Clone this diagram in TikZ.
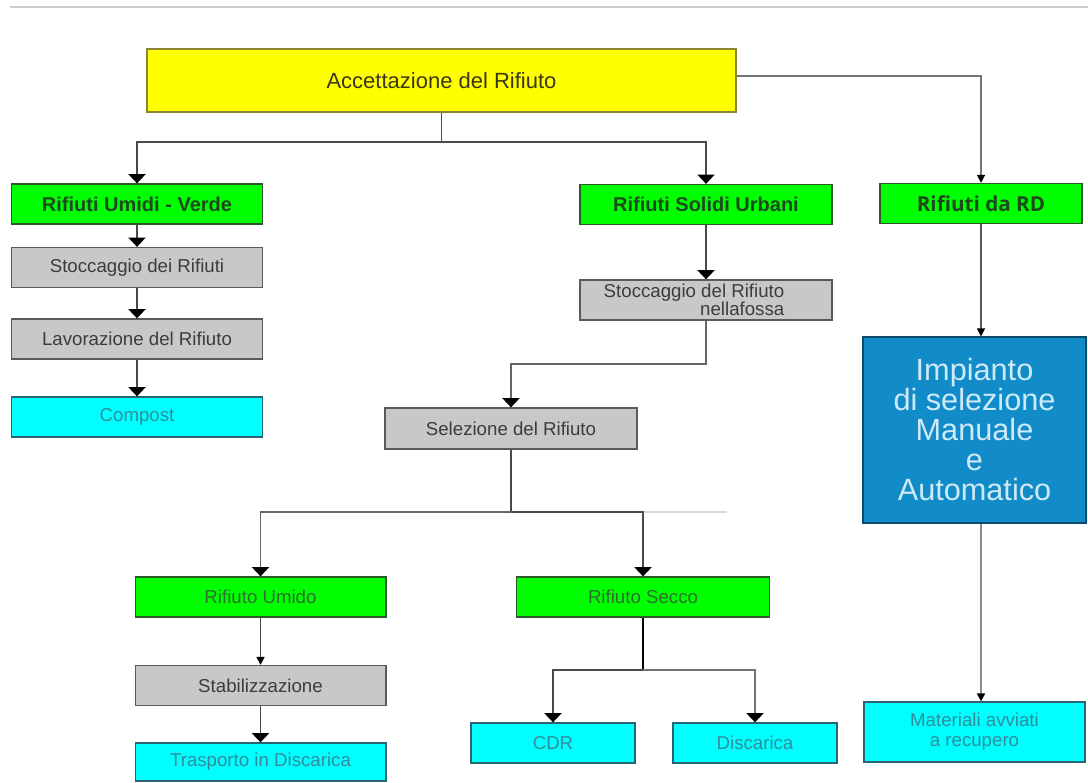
\documentclass[tikz,border=0pt]{standalone}
\usepackage{fontspec}
\setmainfont{Liberation Sans}
\newfontfamily\rdfont{Open Sans}
\usetikzlibrary{arrows.meta}

% Colours of the chart
\definecolor{AccFill}{HTML}{FFFF00}
\definecolor{AccLine}{HTML}{8A8632}
\definecolor{AccText}{HTML}{3A3814}
\definecolor{GreenFill}{HTML}{00FF00}
\definecolor{GreenLine}{HTML}{2A5A2A}
\definecolor{GreenText}{HTML}{1C4A1C}
\definecolor{GreenThin}{HTML}{2F6E2F}
\definecolor{GreyFill}{HTML}{C8C8C8}
\definecolor{GreyLine}{HTML}{5A5A5A}
\definecolor{GreyText}{HTML}{3C3C3C}
\definecolor{CyanFill}{HTML}{00FFFF}
\definecolor{CyanLine}{HTML}{2A6472}
\definecolor{CyanText}{HTML}{2F8E9C}
\definecolor{BlueFill}{HTML}{128CC9}
\definecolor{BlueLine}{HTML}{0B4A6A}
\definecolor{BlueText}{HTML}{CDEAF8}
\definecolor{LinkGrey}{HTML}{4A4A4A}

\begin{document}
\begin{tikzpicture}[x=0.75pt, y=-0.75pt,
  box/.style={draw, line width=1pt, inner sep=0pt, minimum width=188pt,
    minimum height=30pt, align=center},
  topbox/.style={box, fill=GreenFill, draw=GreenLine, text=GreenText,
    font=\fontsize{15}{17}\selectfont\bfseries},
  greenbox/.style={box, fill=GreenFill, draw=GreenLine, text=GreenThin,
    font=\fontsize{14}{16}\selectfont},
  greybox/.style={box, fill=GreyFill, draw=GreyLine, text=GreyText,
    font=\fontsize{14}{16}\selectfont},
  cyanbox/.style={box, fill=CyanFill, draw=CyanLine, text=CyanText,
    font=\fontsize{14}{16}\selectfont},
  link/.style={draw=LinkGrey, line width=1.2pt},
  arr/.style={link, -{Triangle[width=13pt,length=7pt,black]}},
  smallarr/.style={link, -{Triangle[width=6pt,length=6pt,black]}},
]

\useasboundingbox[fill=white] (0,0) rectangle (1088,782);

% Rule on top
\draw[black!20, line width=1.2pt] (10,7) -- (1088,7);

% Boxes
\node[box, fill=AccFill, draw=AccLine, text=AccText, minimum width=441.75pt,
  minimum height=47.25pt, font=\fontsize{16.5}{19}\selectfont]
  (acc) at (441.5,80.5) {Accettazione del Rifiuto};

\node[topbox] (verde) at (137,204) {Rifiuti Umidi - Verde};
\node[topbox, minimum width=189pt] (rsu) at (706,204.5) {Rifiuti Solidi Urbani};
\node[topbox, minimum width=151.5pt, font=\rdfont\fontsize{15.5}{17}\selectfont\bfseries]
  (rd) at (981,203.5) {Rifiuti da RD};

\node[greybox] (stoc) at (137,267.5) {Stoccaggio dei Rifiuti};
\node[greybox] (lav) at (137,339) {Lavorazione del Rifiuto};
\node[cyanbox] (compost) at (137,417) {Compost};

\node[greybox, minimum width=189pt, align=right,
  font=\fontsize{14}{13.5}\selectfont]
  (fossa) at (706,300) {Stoccaggio del Rifiuto\hspace*{18pt}\\nellafossa\hspace*{18pt}};
\node[greybox, minimum width=189pt, minimum height=30.75pt]
  (sel) at (511,428.5) {Selezione del Rifiuto};

\node[greenbox] (umido) at (260.5,597) {Rifiuto Umido};
\node[greybox] (stab) at (260.5,685.5) {Stabilizzazione};
\node[cyanbox, minimum height=28.5pt] (trasp) at (260.5,762) {Trasporto in Discarica};

\node[greenbox, minimum width=189.75pt] (secco) at (643,597) {Rifiuto Secco};
\node[cyanbox, minimum width=123pt] (cdr) at (553,743) {CDR};
\node[cyanbox, minimum width=123pt] (disc) at (755,743) {Discarica};

\node[box, fill=BlueFill, draw=BlueLine, text=BlueText, minimum width=167.25pt,
  minimum height=139.5pt, font=\fontsize{23}{22.5}\selectfont]
  (imp) at (974.5,430) {Impianto\\di selezione\\Manuale\\e\\Automatico};
\node[cyanbox, minimum width=165.75pt, minimum height=45pt,
  font=\fontsize{14}{15}\selectfont]
  (mat) at (974.5,732) {Materiali avviati\\a recupero};

% Connectors from the top
\coordinate (split1) at (acc.south |- 0,142);
\draw[link] (acc.south) -- (split1);
\draw[arr] (split1) -| (verde.north);
\draw[arr] (split1) -| (rsu.north);
\draw[link, draw=black!55] (acc.east |- 0,76) -| (rd.north |- 0,150);
\draw[smallarr, draw=black!55] (rd.north |- 0,150) -- (rd.north);

% Left column
\draw[arr] (verde) -- (stoc);
\draw[arr] (stoc) -- (lav);
\draw[arr] (lav) -- (compost);

% Middle column
\draw[arr] (rsu) -- (fossa);
\draw[arr, draw=black!60] (fossa.south) -- (fossa.south |- 0,364) -| (sel.north);

\coordinate (split2) at (sel.south |- 0,512);
\draw[link] (sel.south) -- (split2);
\draw[link, draw=black!15] (split2) -- (727,512);
\draw[arr, draw=black!60] (split2) -| (umido.north);
\draw[arr] (split2) -| (secco.north);

\draw[smallarr] (umido) -- (stab);
\draw[arr] (stab) -- (trasp);

\coordinate (split3) at (secco.south |- 0,670);
\draw[link, draw=black, line width=1.8pt] (secco.south) -- (split3);
\draw[arr] (split3) -| (cdr.north);
\draw[arr, draw=black!55] (split3) -| (disc.north);

% Right column
\draw[smallarr, draw=black!65] (rd.south) -- (rd.south |- imp.north);
\draw[smallarr, draw=black!45, line width=1.6pt] (rd.south |- imp.south) -- (rd.south |- mat.north);

\end{tikzpicture}
\end{document}
